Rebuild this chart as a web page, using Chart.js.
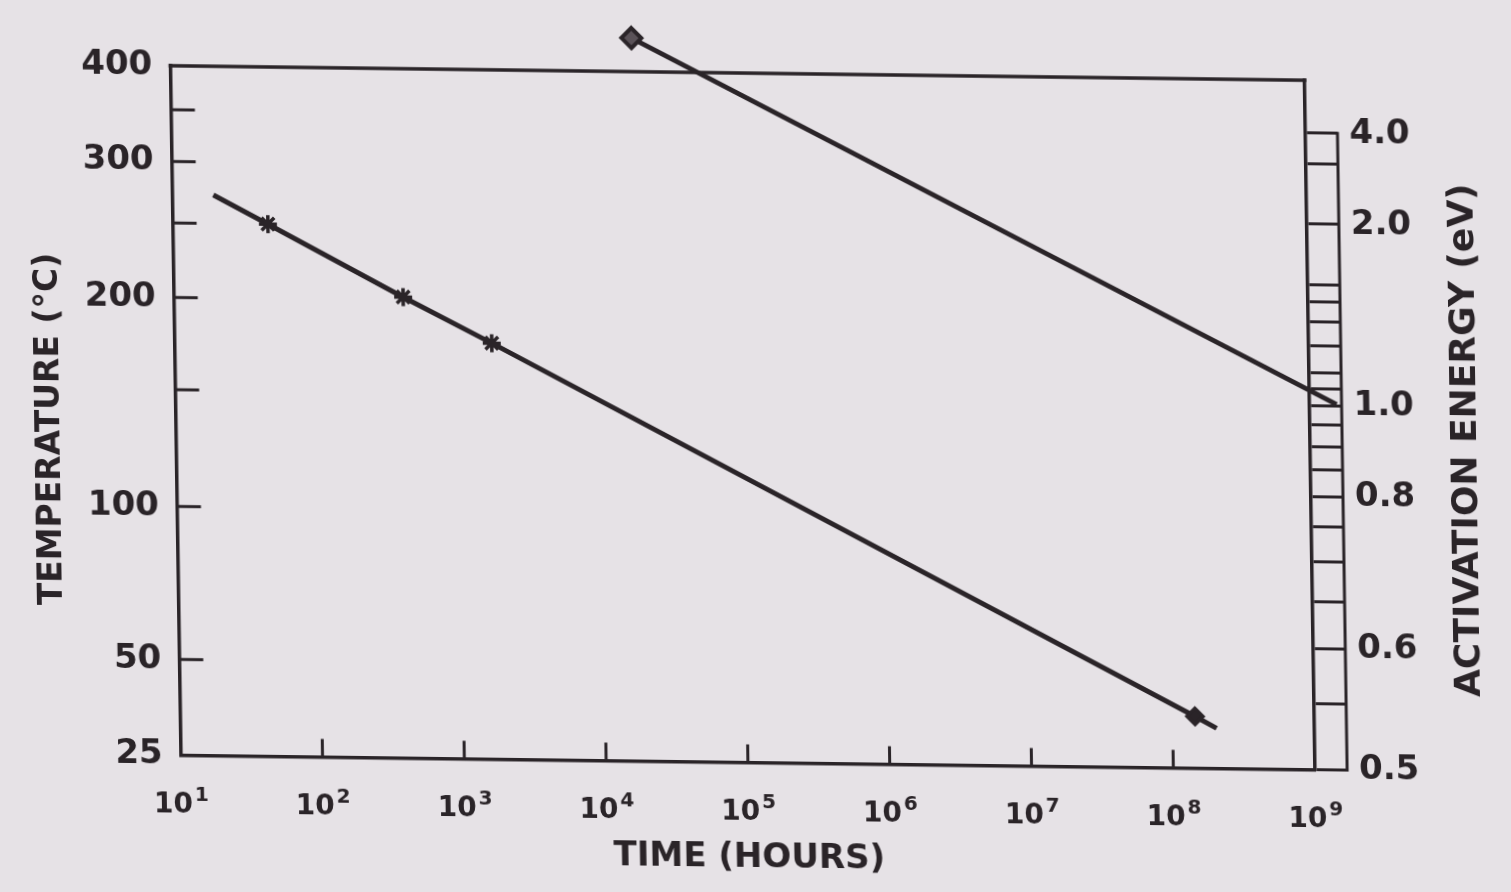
<!DOCTYPE html>
<html>
<head>
<meta charset="utf-8">
<script src="https://cdn.jsdelivr.net/npm/chart.js@4.4.0/dist/chart.umd.min.js"></script>
<style>
  html, body { margin: 0; padding: 0; background: #e6e2e6; overflow: hidden; }
  /* the scan is slightly skewed, the wrapper mimics that */
  #wrap {
    position: absolute; left: 0; top: 0; width: 1511px; height: 892px;
    transform: matrix(1, 0.0128, 0.0152, 1, 0, 0);
    transform-origin: 742.75px 417.75px;
  }
</style>
</head>
<body>
<div id="wrap"><canvas id="chart"></canvas></div>
<script>
// Lower line (time to failure vs temperature)
const lowerHours = [19.5, 47, 415, 1730, 1.44e8, 2.04e8];
const lowerTempC = [272, 250, 202, 176, 38, 35];

// Upper line (runs off the top, ends on the eV ruler)
const upperHours = [1.8e4, 1.55e9];
const upperTempC = [444, 150];

// Axis ticks
const timeTicks = [1e1, 1e2, 1e3, 1e4, 1e5, 1e6, 1e7, 1e8, 1e9];
const tempLabels = [400, 300, 200, 100, 50, 25];
const tempMinor = [350, 250, 150];
const eaRungs = [4.0, 3.0, 2.0, 1.5, 1.4, 1.3, 1.2, 1.1, 1.05, 1.0, 0.95, 0.9, 0.85, 0.8, 0.75, 0.7, 0.65, 0.6, 0.55, 0.5];
const eaLabels = [4.0, 2.0, 1.0, 0.8, 0.6, 0.5];

const ink = '#2a2428';
const fontFamily = 'DejaVu Sans';
const invT = (c) => 1000 / (c + 273.15);
const rulerWidth = 32;

const toPoints = (hours, temps) => hours.map((h, i) => ({ x: h, y: invT(temps[i]) }));

const framePlugin = {
    id: 'frame',
    afterDatasetsDraw(chart) {
        // points that sit outside the plot box are skipped by Chart.js, draw them here
        const whole = { left: 0, top: 0, right: chart.width, bottom: chart.height };
        const a = chart.chartArea;
        chart.data.datasets.forEach((ds, i) => {
            chart.getDatasetMeta(i).data.forEach(pt => {
                if (pt.x < a.left || pt.x > a.right || pt.y < a.top || pt.y > a.bottom) {
                    pt.draw(chart.ctx, whole);
                }
            });
        });
    },
    afterDraw(chart) {
        const { ctx, chartArea: a, scales: { x, y, y2 } } = chart;
        ctx.save();
        ctx.strokeStyle = ink;
        ctx.lineCap = 'square';

        // top edge of the box
        ctx.lineWidth = 3.5;
        ctx.beginPath();
        ctx.moveTo(a.left, a.top);
        ctx.lineTo(a.right, a.top);
        ctx.stroke();

        // outer edge of the eV ruler
        const rx = a.right + rulerWidth;
        ctx.lineWidth = 3;
        ctx.beginPath();
        ctx.moveTo(rx, y2.getPixelForValue(1 / eaRungs[0]));
        ctx.lineTo(rx, y2.getPixelForValue(1 / eaRungs[eaRungs.length - 1]));
        ctx.stroke();

        // inward tick marks
        ctx.lineCap = 'butt';
        ctx.beginPath();
        tempMinor.concat(tempLabels.slice(1, -1)).forEach(t => {
            const py = y.getPixelForValue(invT(t));
            ctx.moveTo(a.left, py);
            ctx.lineTo(a.left + 24, py);
        });
        timeTicks.slice(1, -1).forEach(h => {
            const px = x.getPixelForValue(h);
            ctx.moveTo(px, a.bottom);
            ctx.lineTo(px, a.bottom - 18);
        });
        ctx.stroke();

        // time labels as 10 with a raised exponent
        ctx.fillStyle = ink;
        timeTicks.forEach(h => {
            const px = x.getPixelForValue(h);
            const exp = String(Math.round(Math.log10(h)));
            ctx.font = `bold 28px "${fontFamily}"`;
            const wBase = ctx.measureText('10').width;
            ctx.font = `bold 20px "${fontFamily}"`;
            const wExp = ctx.measureText(exp).width;
            const left = px - (wBase + 2 + wExp) / 2;
            ctx.textAlign = 'left';
            ctx.textBaseline = 'alphabetic';
            ctx.font = `bold 28px "${fontFamily}"`;
            ctx.fillText('10', left, a.bottom + 57);
            ctx.font = `bold 20px "${fontFamily}"`;
            ctx.fillText(exp, left + wBase + 2, a.bottom + 45);
        });

        // vertical titles, both read bottom to top
        ctx.textAlign = 'center';
        ctx.textBaseline = 'middle';
        ctx.font = `bold 33px "${fontFamily}"`;
        ctx.translate(50, 438);
        ctx.rotate(-Math.PI / 2);
        ctx.fillText('TEMPERATURE (°C)', 0, 0);
        ctx.setTransform(1, 0, 0, 1, 0, 0);
        ctx.font = `bold 36px "${fontFamily}"`;
        ctx.translate(1467, 431);
        ctx.rotate(-Math.PI / 2);
        ctx.fillText('ACTIVATION ENERGY (eV)', 0, 0);
        ctx.restore();
    }
};

new Chart(document.getElementById('chart'), {
    type: 'scatter',
    data: {
        datasets: [{
            data: toPoints(lowerHours, lowerTempC),
            showLine: true,
            borderColor: ink,
            borderWidth: 5,
            pointStyle: ['circle', 'star', 'star', 'star', 'rectRot', 'circle'],
            pointRadius: [0, 9, 9, 9, 8, 0],
            pointBorderWidth: 3.5,
            pointBackgroundColor: ink,
            pointBorderColor: ink,
            clip: false
        }, {
            data: toPoints(upperHours, upperTempC),
            showLine: true,
            borderColor: ink,
            borderWidth: 5,
            pointStyle: ['rectRot', 'circle'],
            pointRadius: [10, 0],
            pointBorderWidth: 4,
            pointBackgroundColor: '#5a5258',
            pointBorderColor: ink,
            clip: false
        }]
    },
    options: {
        responsive: true,
        maintainAspectRatio: false,
        animation: false,
        layout: { padding: { top: 73, left: 0, right: 0, bottom: 0 } },
        plugins: { legend: { display: false }, tooltip: { enabled: false } },
        scales: {
            x: {
                type: 'logarithmic',
                position: 'bottom',
                min: 1e1,
                max: 1e9,
                afterBuildTicks: (s) => { s.ticks = timeTicks.map(v => ({ value: v })); },
                afterFit: (s) => { s.height = 129.5; },
                grid: { display: false, drawTicks: false },
                border: { display: true, color: ink, width: 3.5 },
                ticks: { display: false },
                title: {
                    display: true,
                    text: 'TIME (HOURS)',
                    color: ink,
                    padding: { top: 0, bottom: 13 },
                    font: { family: fontFamily, size: 34, weight: 'bold' }
                }
            },
            y: {
                type: 'linear',
                position: 'left',
                reverse: true,
                min: invT(400),
                max: invT(25),
                afterBuildTicks: (s) => {
                    s.ticks = tempLabels.concat(tempMinor)
                        .map(t => invT(t)).sort((p, q) => p - q)
                        .map(v => ({ value: v }));
                },
                afterFit: (s) => { s.width = 175.5; },
                grid: { display: false, drawTicks: false },
                border: { display: true, color: ink, width: 3.5 },
                ticks: {
                    autoSkip: false,
                    padding: 18,
                    color: ink,
                    font: { family: fontFamily, size: 34, weight: 'bold' },
                    callback: (v) => {
                        const t = Math.round(1000 / v - 273.15);
                        return tempLabels.includes(t) ? String(t) : '';
                    }
                }
            },
            y2: {
                type: 'linear',
                position: 'right',
                reverse: true,
                min: 0.105,
                max: 2.0,
                afterBuildTicks: (s) => { s.ticks = eaRungs.map(e => ({ value: 1 / e })); },
                afterFit: (s) => { s.width = 201; },
                grid: {
                    display: true,
                    drawOnChartArea: false,
                    drawTicks: true,
                    tickLength: rulerWidth,
                    color: ink,
                    lineWidth: 3
                },
                border: { display: true, color: ink, width: 3.5 },
                ticks: {
                    autoSkip: false,
                    padding: 12,
                    color: ink,
                    font: { family: fontFamily, size: 34, weight: 'bold' },
                    callback: (v) => {
                        const e = Math.round(100 / v) / 100;
                        return eaLabels.includes(e) ? e.toFixed(1) : '';
                    }
                }
            }
        }
    },
    plugins: [framePlugin]
});
</script>
</body>
</html>
